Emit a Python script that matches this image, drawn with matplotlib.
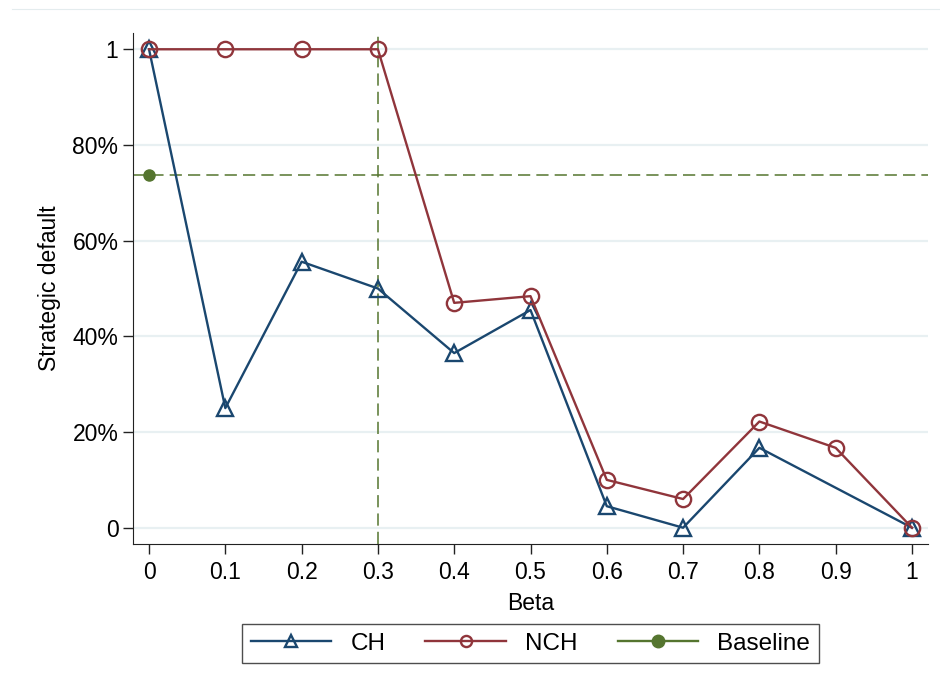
import matplotlib
matplotlib.use("Agg")
import matplotlib.pyplot as plt
from matplotlib.ticker import FuncFormatter
from matplotlib.lines import Line2D

plt.rcParams['font.family'] = ['Liberation Sans', 'DejaVu Sans']

beta = [0, 0.1, 0.2, 0.3, 0.4, 0.5, 0.6, 0.7, 0.8, 0.9, 1.0]
# CH has no observation at beta = 0.9
ch_beta = [0, 0.1, 0.2, 0.3, 0.4, 0.5, 0.6, 0.7, 0.8, 1.0]
ch = [1.0, 0.25, 0.556, 0.5, 0.365, 0.455, 0.045, 0.0, 0.167, 0.0]
nch = [1.0, 1.0, 1.0, 1.0, 0.47, 0.484, 0.10, 0.06, 0.222, 0.167, 0.0]
baseline = 0.737
beta_cut = 0.3

yticks = [0, 0.2, 0.4, 0.6, 0.8, 1.0]
xticks = beta
xticklabels = ['0', '0.1', '0.2', '0.3', '0.4', '0.5', '0.6', '0.7', '0.8', '0.9', '1']

navy = '#1a476f'
maroon = '#90353b'
green = '#55752f'
grid_c = '#e8f0f2'

fig = plt.figure(figsize=(9.4, 6.93), dpi=100)
ax = fig.add_axes([133/940, 1 - 544/693, (928 - 133)/940, (544 - 33)/693])

for y in yticks:
    ax.axhline(y, color=grid_c, lw=1.6, zorder=0)

ax.axhline(baseline, color=green, lw=1.1, ls=(0, (8, 4)), zorder=1)
ax.axvline(beta_cut, color=green, lw=1.1, ls=(0, (8, 4)), zorder=1)

ax.plot(ch_beta, ch, color=navy, lw=1.7, marker='^', ms=11, mfc='none',
        mec=navy, mew=1.7, label='CH', zorder=3)
ax.plot(beta, nch, color=maroon, lw=1.7, marker='o', ms=11, mfc='none',
        mec=maroon, mew=1.7, label='NCH', zorder=3)
ax.plot([0], [baseline], color=green, lw=1.7, marker='o', ms=8,
        ls='none', label='Baseline', zorder=4)

ax.set_xlim(-0.021, 1.021)
ax.set_ylim(-0.034, 1.034)
ax.set_xticks(xticks)
ax.set_xticklabels(xticklabels)
ax.set_yticks(yticks)


def pct(v, pos):
    if v == 0:
        return '0'
    if v == 1:
        return '1'
    return '%d%%' % round(v * 100)


ax.yaxis.set_major_formatter(FuncFormatter(pct))
ax.tick_params(axis='both', labelsize=16.5, length=7, width=1, color='#222222')
ax.tick_params(axis='x', pad=5)
ax.spines['top'].set_visible(False)
ax.spines['right'].set_visible(False)
ax.spines['left'].set_color('#222222')
ax.spines['bottom'].set_color('#222222')

ax.set_xlabel('Beta', fontsize=16.5, labelpad=6)
ax.set_ylabel('Strategic default', fontsize=16.5, labelpad=8)

handles = [
    Line2D([], [], color=navy, lw=1.7, marker='^', ms=8, mfc='none', mec=navy, mew=1.7),
    Line2D([], [], color=maroon, lw=1.7, marker='o', ms=8, mfc='none', mec=maroon, mew=1.7),
    Line2D([], [], color=green, lw=1.7, marker='o', ms=9),
]
leg = fig.legend(handles, ['CH', 'NCH', 'Baseline'], loc='center',
                 bbox_to_anchor=(530.5/940, 1 - 643.5/693), ncol=3, fontsize=17.5,
                 frameon=True, fancybox=False, edgecolor='#222222',
                 handlelength=3.3, columnspacing=1.65, handletextpad=0.8,
                 borderpad=0.35, borderaxespad=0)
leg.get_frame().set_linewidth(1.0)

fig.add_artist(Line2D([12/940, 1], [1 - 9/693, 1 - 9/693], color='#e4ecee', lw=0.8))

fig.savefig('out.png', dpi=100)
